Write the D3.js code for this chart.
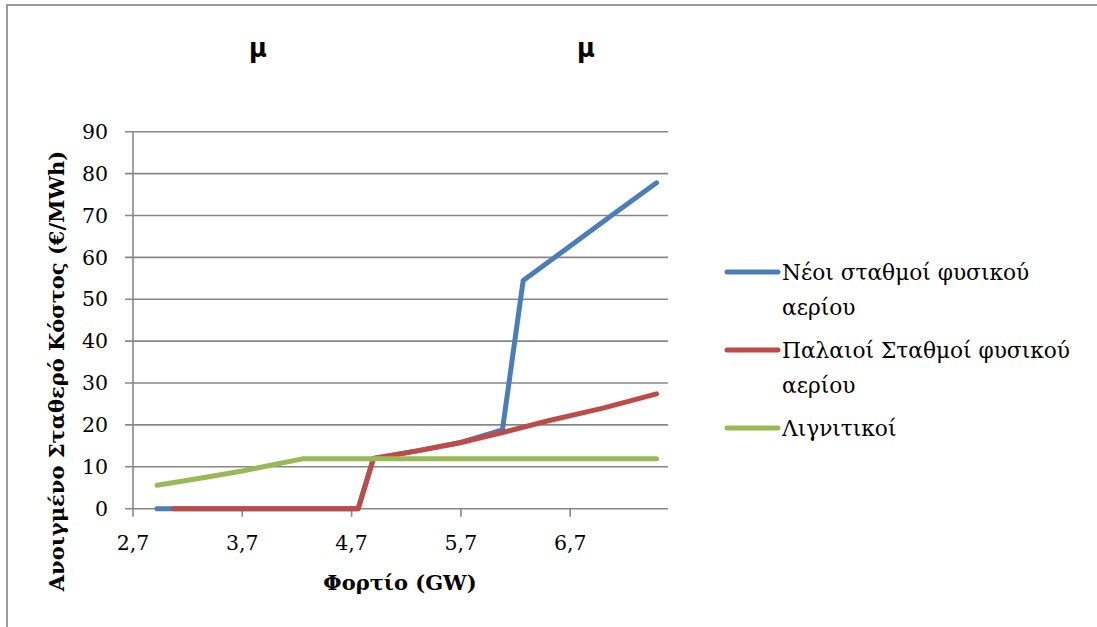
<!DOCTYPE html>
<html>
<head>
<meta charset="utf-8">
<script src="https://cdn.jsdelivr.net/npm/d3@7"></script>
<style>
  body { margin: 0; background: #fff; }
  svg text { fill: #000; }
</style>
</head>
<body>
<div id="chart"></div>
<script>
// Δεδομένα (φορτίο σε GW, κόστος σε €/MWh)
var seriesNames = ["Νέοι σταθμοί φυσικού αερίου", "Παλαιοί Σταθμοί φυσικού αερίου", "Λιγνιτικοί"];
var legendLines = [["Νέοι σταθμοί φυσικού", "αερίου"], ["Παλαιοί Σταθμοί φυσικού", "αερίου"], ["Λιγνιτικοί"]];
var colors = ["#4A7EBB", "#BE4B48", "#98B954"];

var newGasX = [2.92, 4.76, 4.90, 5.3, 5.7, 6.08, 6.27, 6.7, 7.1, 7.49];
var newGasY = [0, 0, 12.0, 13.8, 15.8, 18.8, 54.5, 62.7, 70.4, 77.8];

var oldGasX = [3.07, 4.76, 4.90, 5.3, 5.7, 6.1, 6.5, 7.0, 7.49];
var oldGasY = [0, 0, 12.0, 13.8, 15.8, 18.3, 21.0, 24.0, 27.4];

var ligniteX = [2.92, 3.3, 3.7, 4.25, 4.9, 5.7, 6.7, 7.49];
var ligniteY = [5.6, 7.2, 9.0, 11.9, 11.9, 11.9, 11.9, 11.9];

var xTicks = [2.7, 3.7, 4.7, 5.7, 6.7];
var yTicks = [0, 10, 20, 30, 40, 50, 60, 70, 80, 90];
var topMarks = ["μ", "μ"];

var width = 1097;
var height = 627;

var svg = d3.select("#chart")
    .append("svg")
    .attr("width", width)
    .attr("height", height);

// περίγραμμα γραφήματος
svg.append("path")
    .attr("d", "M7,627 L7,5 L1097,5")
    .attr("fill", "none")
    .attr("stroke", "#9a9a9a")
    .attr("stroke-width", 2);

var x = d3.scaleLinear().domain([2.7, 7.595]).range([133, 668]);
var y = d3.scaleLinear().domain([0, 90]).range([508.7, 131.7]);

var serif = "'DejaVu Serif', 'Liberation Serif', serif";

// γραμμές πλέγματος
svg.append("g")
    .selectAll("line")
    .data(yTicks)
    .enter()
    .append("line")
    .attr("x1", 125)
    .attr("x2", 668)
    .attr("y1", function(d) { return y(d); })
    .attr("y2", function(d) { return y(d); })
    .attr("stroke", "#878787")
    .attr("stroke-width", 1.6);

// άξονας y
svg.append("line")
    .attr("x1", x(2.7)).attr("x2", x(2.7))
    .attr("y1", y(90)).attr("y2", y(0))
    .attr("stroke", "#878787")
    .attr("stroke-width", 1.6);

svg.append("g")
    .selectAll("text")
    .data(yTicks)
    .enter()
    .append("text")
    .attr("x", 108)
    .attr("y", function(d) { return y(d); })
    .attr("dy", "0.35em")
    .attr("text-anchor", "end")
    .style("font-family", serif)
    .style("font-size", "20.5px")
    .text(function(d) { return d; });

// άξονας x
svg.append("g")
    .selectAll("line")
    .data(xTicks)
    .enter()
    .append("line")
    .attr("x1", function(d) { return x(d); })
    .attr("x2", function(d) { return x(d); })
    .attr("y1", y(0))
    .attr("y2", y(0) + 8)
    .attr("stroke", "#878787")
    .attr("stroke-width", 1.6);

svg.append("g")
    .selectAll("text")
    .data(xTicks)
    .enter()
    .append("text")
    .attr("x", function(d) { return x(d); })
    .attr("y", 543)
    .attr("dy", "0.35em")
    .attr("text-anchor", "middle")
    .style("font-family", serif)
    .style("font-size", "20.5px")
    .text(function(d) { return d3.format(".1f")(d).replace(".", ","); });

// τίτλοι αξόνων
svg.append("text")
    .attr("x", 400)
    .attr("y", 583)
    .attr("dy", "0.35em")
    .attr("text-anchor", "middle")
    .style("font-family", serif)
    .style("font-size", "21px")
    .style("font-weight", "bold")
    .text("Φορτίο (GW)");

svg.append("text")
    .attr("transform", "translate(57,371) rotate(-90)")
    .attr("dy", "0.35em")
    .attr("text-anchor", "middle")
    .style("font-family", serif)
    .style("font-size", "21px")
    .style("font-weight", "bold")
    .text("Ανοιγμένο Σταθερό Κόστος (€/MWh)");

// σύμβολα στην κορυφή
svg.append("g")
    .selectAll("text")
    .data(topMarks)
    .enter()
    .append("text")
    .attr("x", function(d, i) { return i === 0 ? 258 : 586; })
    .attr("y", 48)
    .attr("dy", "0.35em")
    .attr("text-anchor", "middle")
    .style("font-family", "'DejaVu Sans Condensed', 'DejaVu Sans', sans-serif")
    .style("font-size", "27px")
    .style("font-weight", "bold")
    .text(function(d) { return d; });

// σειρές
var seriesData = [
    d3.zip(newGasX, newGasY),
    d3.zip(oldGasX, oldGasY),
    d3.zip(ligniteX, ligniteY)
];

var line = d3.line()
    .x(function(d) { return x(d[0]); })
    .y(function(d) { return y(d[1]); });

svg.append("g")
    .selectAll("path")
    .data(seriesData)
    .enter()
    .append("path")
    .attr("d", line)
    .attr("fill", "none")
    .attr("stroke", function(d, i) { return colors[i]; })
    .attr("stroke-width", 5)
    .attr("stroke-linecap", "round")
    .attr("stroke-linejoin", "round");

// υπόμνημα
var legendY = [272, 350, 428];
var legend = svg.append("g")
    .selectAll("g")
    .data(seriesNames)
    .enter()
    .append("g")
    .attr("transform", function(d, i) { return "translate(0," + legendY[i] + ")"; });

legend.append("line")
    .attr("x1", 727)
    .attr("x2", 778)
    .attr("stroke", function(d, i) { return colors[i]; })
    .attr("stroke-width", 5)
    .attr("stroke-linecap", "round");

legend.append("text")
    .attr("x", 782)
    .style("font-family", serif)
    .style("font-size", "21.7px")
    .selectAll("tspan")
    .data(function(d, i) { return legendLines[i]; })
    .enter()
    .append("tspan")
    .attr("x", 782)
    .attr("y", function(d, j) { return j * 35; })
    .attr("dy", "0.35em")
    .text(function(d) { return d; });
</script>
</body>
</html>
